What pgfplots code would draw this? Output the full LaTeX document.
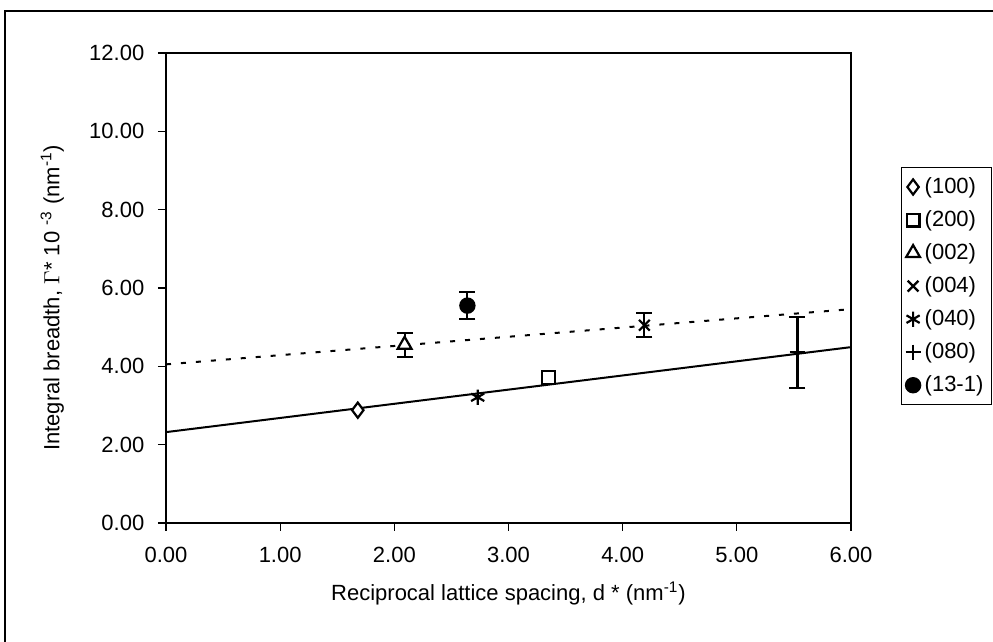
\documentclass[border=0pt]{standalone}
\usepackage{pgfplots}
\pgfplotsset{compat=1.18}
\usepackage{fontspec}
\setmainfont{Liberation Sans}
\begin{document}
\fontsize{11}{13}\selectfont
\begin{tikzpicture}[x=1pt,y=1pt]
\begin{axis}[
  at={(83pt,59.5pt)}, anchor=origin,
  scale only axis, width=342.5pt, height=235pt,
  xmin=0, xmax=6, ymin=0, ymax=12,
  xtick={0,1,2,3,4,5,6}, ytick={0,2,4,6,8,10,12},
  tick pos=left, tick align=outside,
  major tick length=4pt,
  /pgf/number format/assume math mode=true,
  /pgf/number format/.cd, fixed, fixed zerofill, precision=2,
  /pgfplots/.cd,
  xticklabel style={yshift=-4pt},
  yticklabel style={xshift=-3pt},
  axis line style={line width=0.6pt},
  tick style={line width=0.6pt, black},
  xlabel={Reciprocal lattice spacing, d * (nm\textsuperscript{-1})},
  ylabel={Integral breadth, $\Gamma$* 10 \textsuperscript{-3} (nm\textsuperscript{-1})},
  xlabel style={at={(axis description cs:0.5,-0.150)}, anchor=center},
  ylabel style={at={(axis description cs:-0.166,0.479)}, anchor=center},
  legend style={at={(axis description cs:1.073,0.504)}, anchor=west,
    draw=black, line width=0.5pt, font=\fontsize{11}{13}\selectfont,
    row sep=2.9pt, inner xsep=2pt, inner ysep=3pt,
    legend cell align=left},
  legend image code/.code={\draw[#1] plot coordinates {(0.3em,0)};},
  every axis plot/.append style={line width=1pt, black},
]
% (100)
\addplot[only marks, mark=diamond*, mark options={fill=white, line width=1.1pt}, mark size=3.8pt]
  coordinates {(1.68,2.88)};
\addlegendentry{(100)}
% (200)
\addplot[only marks, mark=square*, mark options={fill=white, line width=1.1pt}, mark size=3.2pt]
  coordinates {(3.35,3.72)};
\addlegendentry{(200)}
% (002)
\addplot[only marks, mark=triangle*, mark options={fill=white, line width=1.1pt}, mark size=4pt,
  error bars/.cd, y dir=both, y explicit,
  error bar style={line width=1pt},
  error mark options={rotate=90, mark size=4pt, line width=1pt}]
  coordinates {(2.09,4.55) +- (0,0.30)};
\addlegendentry{(002)}
% (004)
\addplot[only marks, mark=x, mark options={line width=1.1pt}, mark size=3.8pt,
  error bars/.cd, y dir=both, y explicit,
  error bar style={line width=1pt},
  error mark options={rotate=90, mark size=4pt, line width=1pt}]
  coordinates {(4.19,5.05) +- (0,0.30)};
\addlegendentry{(004)}
% (040)
\addplot[only marks, mark=asterisk, mark options={line width=1.1pt}, mark size=3.8pt]
  coordinates {(2.73,3.21)};
\addlegendentry{(040)}
% (080)
\addplot[only marks, mark=+, mark options={line width=1.1pt}, mark size=3.8pt,
  error bars/.cd, y dir=both, y explicit,
  error bar style={line width=1.3pt},
  error mark options={rotate=90, mark size=4pt, line width=1pt}]
  coordinates {(5.53,4.36) +- (0,0.91)};
\addlegendentry{(080)}
% (13-1)
\addplot[only marks, mark=*, mark options={fill=black}, mark size=3.6pt,
  error bars/.cd, y dir=both, y explicit,
  error bar style={line width=1pt},
  error mark options={rotate=90, mark size=4pt, line width=1pt}]
  coordinates {(2.64,5.55) +- (0,0.35)};
\addlegendentry{(13-1)}
% trend lines
\addplot[line width=1pt, forget plot] coordinates {(0,2.32) (6,4.49)};
\addplot[line width=1pt, dash pattern=on 2.5pt off 5pt, forget plot] coordinates {(0,4.05) (6,5.46)};
\end{axis}
\draw[line width=0.6pt] (2.5pt,-10pt) -- (2.5pt,315.5pt) -- (510pt,315.5pt);
\pgfresetboundingbox
\useasboundingbox (0,0) rectangle (496.5pt,321pt);
\end{tikzpicture}
\end{document}
